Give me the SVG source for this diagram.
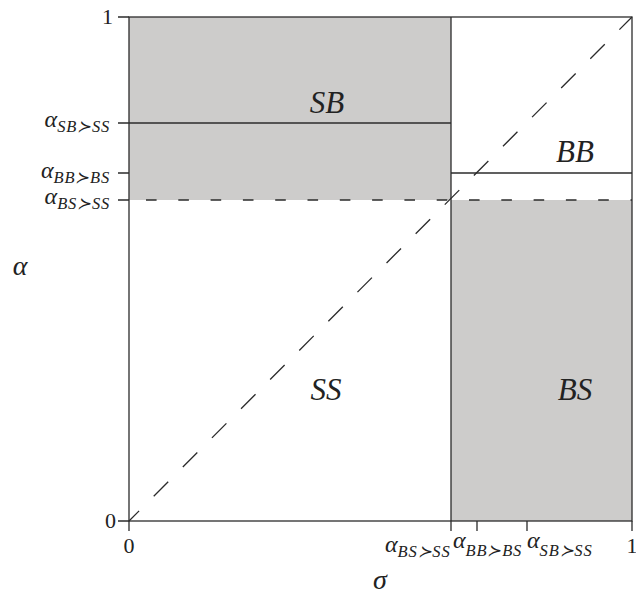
<svg xmlns="http://www.w3.org/2000/svg" width="636" height="594" viewBox="0 0 636 594">
<style>
.ln{stroke:#2b2b2b;stroke-width:1.3;fill:none}
.gray{fill:#cdcccb}
.lbl{font-family:"Liberation Serif","DejaVu Serif",serif;font-style:italic;fill:#222}
.num{font-family:"Liberation Serif","DejaVu Serif",serif;fill:#222;font-size:22px}
.reg{font-size:31px}
.sub{font-size:16.5px;letter-spacing:0.8px}
.al{font-size:24px}
</style>
<rect width="636" height="594" fill="#fff"/>
<g id="regions">
<g id="SB"><rect class="gray" x="129" y="17" width="322" height="183"/><text class="lbl reg" x="327" y="113" text-anchor="middle">SB</text></g>
<g id="BS"><rect class="gray" x="451" y="200" width="181" height="321"/><text class="lbl reg" x="575" y="400" text-anchor="middle">BS</text></g>
<g id="BB"><text class="lbl reg" x="575" y="162" text-anchor="middle">BB</text></g>
<g id="SS"><text class="lbl reg" x="326" y="400" text-anchor="middle">SS</text></g>
</g>
<g id="connectors">
<rect class="ln" x="129" y="17" width="503" height="504"/>
<line class="ln" x1="451" y1="17" x2="451" y2="521"/>
<line class="ln" x1="129" y1="123" x2="451" y2="123"/>
<line class="ln" x1="451" y1="173" x2="632" y2="173"/>
<line class="ln" x1="129" y1="200" x2="632" y2="200" stroke-dasharray="10.6 21.7" stroke-dashoffset="15.3" stroke-width="1.6"/>
<line class="ln" x1="129" y1="521" x2="632" y2="17" stroke-dasharray="20.5 20.7" stroke-dashoffset="6.2"/>
<path class="ln" d="M118 17H129M118 123H129M118 173H129M118 200H129M118 521H129M129 521V531M451 521V531M477 521V531M527 521V531M632 521V531"/>
</g>
<g id="axis-labels">
<text class="num" x="113" y="24" text-anchor="end">1</text>
<text class="num" x="116" y="528" text-anchor="end">0</text>
<text class="num" x="129" y="553" text-anchor="middle">0</text>
<text class="num" x="632" y="553" text-anchor="middle">1</text>
<text class="lbl" x="110" y="126.5" text-anchor="end"><tspan class="al">α</tspan><tspan class="sub" dy="5">SB≻SS</tspan></text>
<text class="lbl" x="110" y="177.5" text-anchor="end"><tspan class="al">α</tspan><tspan class="sub" dy="5">BB≻BS</tspan></text>
<text class="lbl" x="110" y="203.5" text-anchor="end"><tspan class="al">α</tspan><tspan class="sub" dy="5">BS≻SS</tspan></text>
<text class="lbl" x="385" y="552"><tspan class="al">α</tspan><tspan class="sub" dy="5">BS≻SS</tspan></text>
<text class="lbl" x="453" y="548"><tspan class="al">α</tspan><tspan class="sub" dy="8">BB≻BS</tspan></text>
<text class="lbl" x="527" y="548"><tspan class="al">α</tspan><tspan class="sub" dy="8">SB≻SS</tspan></text>
<text class="lbl" x="380" y="589" text-anchor="middle" font-size="28">σ</text>
<text class="lbl" x="20" y="275" text-anchor="middle" font-size="28">α</text>
</g>
</svg>
